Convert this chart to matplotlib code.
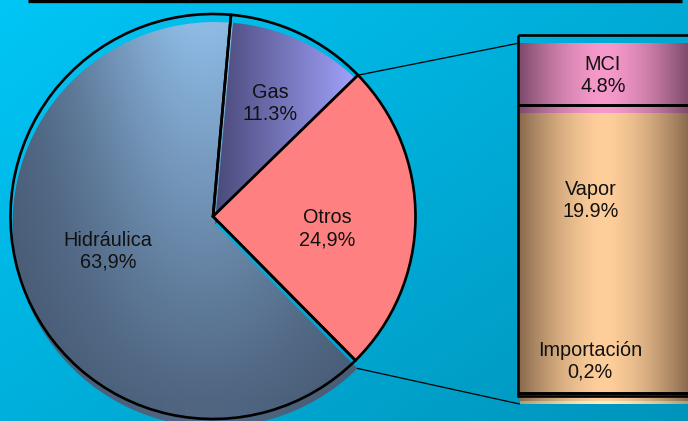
import numpy as np
import matplotlib
matplotlib.use('Agg')
import matplotlib.pyplot as plt
from matplotlib.transforms import ScaledTranslation
from matplotlib.patches import ConnectionPatch
from matplotlib.colors import to_rgb

# ---------------- data ----------------
pie_labels = ['Gas', 'Otros', 'Hidráulica']
pie_values = [11.3, 24.9, 63.9]
pie_pct = ['11.3%', '24,9%', '63,9%']

bar_labels = ['MCI', 'Vapor', 'Importación']
bar_values = [4.8, 19.9, 0.2]
bar_pct = ['4.8%', '19.9%', '0,2%']

# ---------------- layout ----------------
W, H = 688, 421
DPI = 100
FONT = ['Liberation Sans', 'DejaVu Sans']
FS = 14.3
TXT = '#111111'
pie_text_pos = [(270, 103), (327, 228.5), (108, 251.5)]
bar_text_pos = [(603, 75.5), (591, 200.5), (590, 361.5)]

fig = plt.figure(figsize=(W / DPI, H / DPI), dpi=DPI)
ax = fig.add_axes([0, 0, 1, 1])

X, Y = np.meshgrid(np.arange(W) + 0.5, np.arange(H) + 0.5)


def blend(c0, c1, t):
    c0 = np.array(to_rgb(c0))
    c1 = np.array(to_rgb(c1))
    t = np.clip(t, 0, 1)[..., None]
    return c0 * (1 - t) + c1 * t


# background gradient
bg = blend('#00c6f6', '#0094bb', 0.55 * X / W + 0.45 * Y / H)
ax.imshow(bg, extent=(0, W, H, 0), origin='upper', interpolation='bilinear', zorder=0)

shift = ScaledTranslation(2 / DPI, -8 / DPI, fig.dpi_scale_trans)

center = (213, 216.5)
R = 202.5
start = -84.9

# shifted fills (pie)
fills, _ = ax.pie(pie_values, startangle=start, center=center, radius=R,
                  frame=True, wedgeprops=dict(linewidth=0))
for w in fills:
    w.set_transform(ax.transData + shift)
    w.set_facecolor('none')
fills[1].set_visible(False)

hid_t = np.exp(-((X - 205) / 140.0) ** 2) * (1 - 0.85 * np.clip((Y - 20) / 380.0, 0, 1))
hid_rgb = blend('#44566f', '#8fbce6', hid_t)
im_h = ax.imshow(hid_rgb, extent=(0, W, H, 0), origin='upper', zorder=1.5)
im_h.set_clip_path(fills[2])

gas_rgb = blend('#4b4b7c', '#a0a0fa', (X - 218) / 135.0)
im_g = ax.imshow(gas_rgb, extent=(0, W, H, 0), origin='upper', zorder=2)
im_g.set_clip_path(fills[0])

# outlines + Otros fill
outl, _ = ax.pie(pie_values, startangle=start, center=center, radius=R, frame=True,
                 wedgeprops=dict(facecolor='none', edgecolor='black', linewidth=1.9))
outl[1].set_facecolor('#ff8080')
for w in outl:
    w.set_zorder(4)

for (x, y), lab, pct in zip(pie_text_pos, pie_labels, pie_pct):
    ax.text(x, y, f'{lab}\n{pct}', ha='center', va='center', multialignment='center',
            fontsize=FS, family=FONT, color=TXT, zorder=6)

# top rule
ax.plot([28, 682], [1.2, 1.2], color='black', lw=2.4, solid_capstyle='butt',
        clip_on=False, zorder=6)

ax.set_xlim(0, W)
ax.set_ylim(H, 0)
ax.set_aspect('auto')
ax.axis('off')

# ---------------- bar of pie ----------------
total = sum(bar_values)
bx0, bx1 = 505, 700
by0 = 35
bax = fig.add_axes([bx0 / W, 0, (bx1 - bx0) / W, (H - by0) / H])
bax.set_ylim(total * (H - by0) / 361.0, 0)
bax.set_xlim(-0.5 - 12.5 / 172, 0.5 + (bx1 - 689.5) / 172)
bax.axis('off')

cum = np.concatenate([[0], np.cumsum(bar_values)[:-1]])
bfills = bax.bar(0, bar_values, bottom=cum, width=1, linewidth=0, facecolor='none')
xl, xr = bax.get_xlim()
xs = np.linspace(xl, xr, 400)
u = np.abs(xs / 0.5)
tb = np.clip(1 - u ** 1.6, 0, 1)[None, :].repeat(2, axis=0)
seg_cols = [('#7a4868', '#f79acb'), ('#86674b', '#ffcf9b'), ('#a39c72', '#f5f0c6')]
yb, yt = bax.get_ylim()
for rect, (c0, c1) in zip(bfills, seg_cols):
    rect.set_transform(bax.transData + shift)
    rgb = blend(c0, c1, tb)
    im = bax.imshow(rgb, extent=(xl, xr, yb, yt), origin='upper', aspect='auto',
                    interpolation='bilinear', zorder=2)
    im.set_clip_path(rect)

bax.bar(0, bar_values, bottom=cum, width=1, facecolor='none', edgecolor='black',
        linewidth=1.9, zorder=4, clip_on=False)
bax.set_xlim(xl, xr)
bax.set_ylim(yb, yt)

for (x, y), lab, pct in zip(bar_text_pos, bar_labels, bar_pct):
    bax.text(x, y, f'{lab}\n{pct}', ha='center', va='center', multialignment='center',
             fontsize=FS, family=FONT, color=TXT, zorder=6,
             transform=ax.transData, clip_on=False)

# connector lines
def arc_point(theta):
    return (center[0] + R * np.cos(np.deg2rad(theta)),
            center[1] + R * np.sin(np.deg2rad(theta)))

otros = outl[1]
con1 = ConnectionPatch(xyA=arc_point(otros.theta1), coordsA=ax.transData,
                       xyB=(-0.5, 0), coordsB=bax.transData + shift,
                       color='black', lw=0.9, zorder=5)
con2 = ConnectionPatch(xyA=arc_point(otros.theta2), coordsA=ax.transData + shift,
                       xyB=(-0.5, total), coordsB=bax.transData + shift,
                       color='black', lw=0.9, zorder=5)
fig.add_artist(con1)
fig.add_artist(con2)

fig.savefig('out.png', dpi=DPI)
